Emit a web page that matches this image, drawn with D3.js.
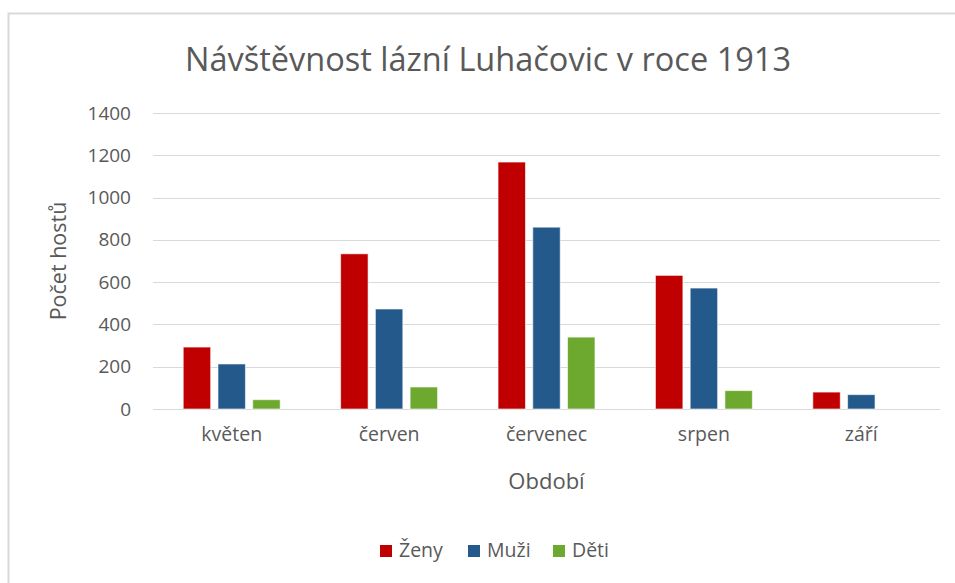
<!DOCTYPE html>
<html>
<head>
<meta charset="utf-8">
<title>Návštěvnost lázní Luhačovic</title>
<style>
  body { margin: 0; background: #fff; }
  text { font-family: "Open Sans", sans-serif; fill: #595959; }
  .grid line { stroke: #d9d9d9; stroke-width: 1; }
</style>
<script src="https://d3js.org/d3.v7.min.js"></script>
</head>
<body>
<div id="chart"></div>
<script>
// data
var months = ["květen", "červen", "červenec", "srpen", "září"];
var seriesNames = ["Ženy", "Muži", "Děti"];
var zeny = [293, 734, 1168, 632, 80];
var muzi = [213, 473, 860, 572, 68];
var deti = [44, 104, 340, 87, 0];
var yTicks = [0, 200, 400, 600, 800, 1000, 1200, 1400];
var colors = ["#c00000", "#245a8b", "#6ea92f"];

var W = 955, H = 583;
var plot = {left: 153, right: 940, top: 113, bottom: 409};

var svg = d3.select("#chart").append("svg")
  .attr("width", W)
  .attr("height", H);

// outer chart border
svg.append("rect")
  .attr("x", 8.5).attr("y", 13.5)
  .attr("width", 1000).attr("height", 600)
  .attr("fill", "#fff")
  .attr("stroke", "#d9d9d9")
  .attr("stroke-width", 2);

var table = months.map(function(m, i) {
  return {month: m, values: [zeny[i], muzi[i], deti[i]]};
});

var x0 = d3.scaleBand()
  .domain(months)
  .range([plot.left, plot.right])
  .paddingInner(0).paddingOuter(0);

var x1 = d3.scaleBand()
  .domain(seriesNames)
  .range([0, x0.bandwidth()])
  .paddingInner(0.21)
  .paddingOuter(0.87);

var y = d3.scaleLinear()
  .domain([0, 1400])
  .range([plot.bottom, plot.top]);

// gridlines
svg.append("g")
  .attr("class", "grid")
  .selectAll("line")
  .data(yTicks)
  .enter().append("line")
  .attr("x1", plot.left).attr("x2", plot.right)
  .attr("y1", function(d) { return Math.round(y(d)) + 0.5; })
  .attr("y2", function(d) { return Math.round(y(d)) + 0.5; });

// y axis labels
var yAxis = d3.axisLeft(y).tickValues(yTicks).tickFormat(d3.format("d"))
  .tickSize(0).tickPadding(0);
var gy = svg.append("g")
  .attr("transform", "translate(131,0)")
  .call(yAxis);
gy.select(".domain").remove();
gy.selectAll("text")
  .style("font-family", "'Open Sans', sans-serif")
  .style("font-size", "19px")
  .attr("fill", "#595959");

// x axis labels
var xAxis = d3.axisBottom(x0).tickSize(0).tickPadding(0);
var gx = svg.append("g")
  .attr("transform", "translate(0,427)")
  .call(xAxis);
gx.select(".domain").remove();
gx.selectAll("text")
  .style("font-family", "'Open Sans', sans-serif")
  .style("font-size", "19.5px")
  .attr("fill", "#595959");

// bars
var groups = svg.selectAll(".month")
  .data(table)
  .enter().append("g")
  .attr("class", "month")
  .attr("transform", function(d) { return "translate(" + x0(d.month) + ",0)"; });

groups.selectAll("rect")
  .data(function(d) {
    return d.values.map(function(v, i) { return {name: seriesNames[i], value: v, i: i}; })
      .filter(function(e) { return e.value > 0; });
  })
  .enter().append("rect")
  .attr("x", function(d) { return x1(d.name); })
  .attr("width", x1.bandwidth())
  .attr("y", function(d) { return y(d.value); })
  .attr("height", function(d) { return y(0) - y(d.value); })
  .attr("fill", function(d) { return colors[d.i]; })
  .attr("stroke", "#ffffff")
  .attr("stroke-opacity", 0.6)
  .attr("stroke-width", 1);

// title
svg.append("text")
  .attr("x", 488).attr("y", 71)
  .attr("text-anchor", "middle")
  .style("font-size", "32.5px")
  .text("Návštěvnost lázní Luhačovic v roce 1913");

// axis titles
svg.append("text")
  .attr("transform", "translate(66,261) rotate(-90)")
  .attr("text-anchor", "middle")
  .style("font-size", "21.5px")
  .text("Počet hostů");

svg.append("text")
  .attr("x", (plot.left + plot.right) / 2).attr("y", 489)
  .attr("text-anchor", "middle")
  .style("font-size", "22px")
  .text("Období");

// legend
var legendX = [380, 468, 553];
var legend = svg.selectAll(".legend")
  .data(seriesNames)
  .enter().append("g")
  .attr("class", "legend")
  .attr("transform", function(d, i) { return "translate(" + legendX[i] + ",545)"; });

legend.append("rect")
  .attr("width", 12).attr("height", 12)
  .attr("fill", function(d, i) { return colors[i]; });

legend.append("text")
  .attr("x", 19).attr("y", 12)
  .style("font-size", "19.5px")
  .text(function(d) { return d; });
</script>
</body>
</html>
